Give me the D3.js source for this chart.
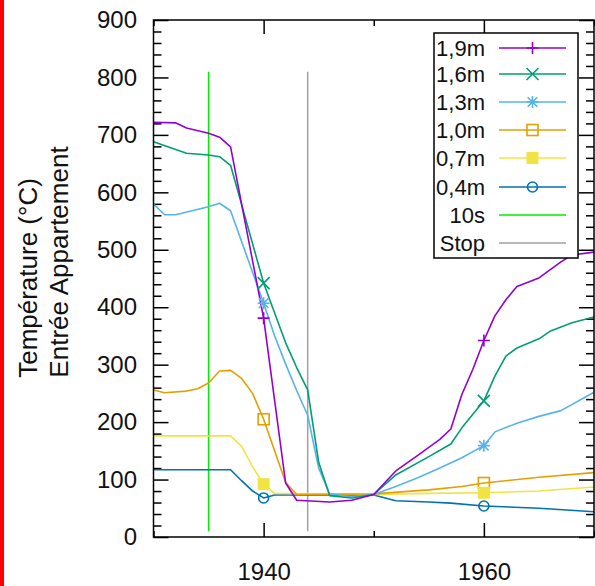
<!DOCTYPE html>
<html>
<head>
<meta charset="utf-8">
<script src="https://cdn.jsdelivr.net/npm/d3@7"></script>
<style>
  body { margin: 0; background: #fff; }
  svg { display: block; }
  text { font-family: "Liberation Sans", Arial, sans-serif; fill: #111; }
</style>
</head>
<body>
<div id="chart"></div>
<script>
var W = 595, H = 586;
var plot = {left: 153.5, right: 594, top: 20, bottom: 537};

// series: [year, temperature]
var s19 = [[1930,722],[1932,721],[1933,712],[1935,703],[1936,696],[1937,679],[1940,381],[1942,94],[1943,64],[1946,61],[1948,64],[1950,74],[1952,115],[1954,142],[1956,170],[1957,188],[1958,248],[1959,292],[1960,342],[1961,385],[1962,413],[1963,436],[1965,451],[1967,479],[1968,491],[1970,496]];
var s16 = [[1930,688],[1933,668],[1935,665],[1936,662],[1937,647],[1940,442],[1941,390],[1942,338],[1943,295],[1944,256],[1945,130],[1946,72],[1948,68],[1950,74],[1952,108],[1955,140],[1957,162],[1958,190],[1960,237],[1961,280],[1962,315],[1963,329],[1965,345],[1966,358],[1968,373],[1970,383]];
var s13 = [[1930,580],[1931,561],[1932,561],[1935,575],[1936,581],[1937,568],[1940,407],[1941,350],[1942,301],[1943,255],[1944,212],[1945,120],[1946,75],[1948,70],[1950,74],[1952,88],[1954,103],[1956,120],[1958,138],[1960,159],[1961,183],[1963,198],[1965,210],[1967,220],[1970,252]];
var s10 = [[1930,256],[1931,251],[1933,254],[1934,258],[1935,268],[1936,289],[1937,290],[1938,276],[1939,250],[1940,205],[1942,95],[1943,74],[1950,75],[1955,82],[1958,88],[1960,94],[1965,104],[1970,112]];
var s07 = [[1930,176],[1937,176],[1938,158],[1939,122],[1940,92],[1941,76],[1950,74],[1955,76],[1960,77],[1965,80],[1970,87]];
var s04 = [[1930,117],[1937,117],[1938,98],[1939,80],[1940,68],[1941,73],[1950,73],[1952,63],[1955,61],[1957,59],[1960,54],[1965,50],[1970,44]];

var seriesNames = ['1,9m', '1,6m', '1,3m', '1,0m', '0,7m', '0,4m'];
var seriesColors = ['#9400d3', '#009e73', '#56b4e9', '#e69f00', '#f0e442', '#0072b2'];
var seriesMarks = ['plus', 'cross', 'star', 'square', 'fsquare', 'circle'];
var markYears = [1940, 1960];

// vertical markers
var vlines = [
    { name: '10s', year: 1935, from: 10, to: 810, color: '#00ee00' },
    { name: 'Stop', year: 1944, from: 10, to: 810, color: '#a0a0a0' }
];

var yMajor = [0, 100, 200, 300, 400, 500, 600, 700, 800, 900];
var xLabels = [1940, 1960];
var xMinor = [1930, 1950, 1970];

var svg = d3.select("#chart").append("svg")
    .attr("width", W)
    .attr("height", H);

// red strip on the left edge
svg.append("rect").attr("x", 0).attr("y", 0).attr("width", 4).attr("height", H).style("fill", "#ff0000");

var x = d3.scaleLinear().domain([1930, 1970]).range([plot.left, plot.right]);
var y = d3.scaleLinear().domain([0, 900]).range([plot.bottom, plot.top]);

svg.append("clipPath").attr("id", "clip")
    .append("rect")
    .attr("x", plot.left).attr("y", plot.top)
    .attr("width", plot.right - plot.left).attr("height", plot.bottom - plot.top);

var yMinor = d3.range(0, 901, 20).filter(function(d) { return d % 100 !== 0; });

// left axis, ticks inside
svg.append("g")
    .attr("class", "y axis")
    .attr("transform", "translate(" + plot.left + ",0)")
    .call(d3.axisLeft(y).tickValues(yMajor).tickSize(-15).tickPadding(16.5))
    .call(function(g) { g.select(".domain").remove(); })
    .style("font-size", "24px");
svg.append("g")
    .attr("transform", "translate(" + plot.left + ",0)")
    .call(d3.axisLeft(y).tickValues(yMinor).tickSize(-8).tickFormat(""))
    .call(function(g) { g.select(".domain").remove(); });

// right mirror ticks
svg.append("g")
    .attr("transform", "translate(" + plot.right + ",0)")
    .call(d3.axisRight(y).tickValues(yMajor).tickSize(-15).tickFormat(""))
    .call(function(g) { g.select(".domain").remove(); });
svg.append("g")
    .attr("transform", "translate(" + plot.right + ",0)")
    .call(d3.axisRight(y).tickValues(yMinor).tickSize(-8).tickFormat(""))
    .call(function(g) { g.select(".domain").remove(); });

// bottom axis
svg.append("g")
    .attr("class", "x axis")
    .attr("transform", "translate(0," + plot.bottom + ")")
    .call(d3.axisBottom(x).tickValues(xLabels).tickFormat(d3.format("d")).tickSize(-14).tickPadding(26))
    .call(function(g) { g.select(".domain").remove(); })
    .style("font-size", "24px");
svg.append("g")
    .attr("transform", "translate(0," + plot.bottom + ")")
    .call(d3.axisBottom(x).tickValues(xMinor).tickSize(-6).tickFormat(""))
    .call(function(g) { g.select(".domain").remove(); });

// top mirror ticks
svg.append("g")
    .attr("transform", "translate(0," + plot.top + ")")
    .call(d3.axisTop(x).tickValues(xLabels).tickSize(-14).tickFormat(""))
    .call(function(g) { g.select(".domain").remove(); });
svg.append("g")
    .attr("transform", "translate(0," + plot.top + ")")
    .call(d3.axisTop(x).tickValues(xMinor).tickSize(-6).tickFormat(""))
    .call(function(g) { g.select(".domain").remove(); });

svg.selectAll(".tick line").style("stroke", "#000").style("stroke-width", 1.5);
svg.selectAll(".tick text").style("fill", "#111");

// axis title (two lines, rotated)
svg.append("text")
    .attr("transform", "translate(37,278) rotate(-90)")
    .style("text-anchor", "middle")
    .style("font-size", "26px")
    .text("Température (°C)");
svg.append("text")
    .attr("transform", "translate(68,262) rotate(-90)")
    .style("text-anchor", "middle")
    .style("font-size", "26px")
    .text("Entrée Appartement");

var plotArea = svg.append("g").attr("clip-path", "url(#clip)");

// vertical reference lines
plotArea.selectAll("line.vref")
    .data(vlines)
    .enter().append("line")
    .attr("class", "vref")
    .attr("x1", function(d) { return x(d.year); })
    .attr("x2", function(d) { return x(d.year); })
    .attr("y1", function(d) { return y(d.from); })
    .attr("y2", function(d) { return y(d.to); })
    .style("stroke", function(d) { return d.color; })
    .style("stroke-width", 1.5);

var allSeries = [s19, s16, s13, s10, s07, s04];

var line = d3.line()
    .x(function(d) { return x(d[0]); })
    .y(function(d) { return y(d[1]); });

// draw 0,4m first so the hot series sit on top
for (var i = allSeries.length - 1; i >= 0; i--) {
    plotArea.append("path")
        .datum(allSeries[i])
        .attr("d", line)
        .style("fill", "none")
        .style("stroke", seriesColors[i])
        .style("stroke-width", 1.6)
        .style("stroke-linejoin", "round");
}

function drawMark(g, type, cx, cy, color) {
    var s = 6;
    if (type === 'plus') {
        g.append("path").attr("d", "M" + (cx - s) + "," + cy + "H" + (cx + s) + "M" + cx + "," + (cy - s) + "V" + (cy + s))
            .style("stroke", color).style("stroke-width", 1.6).style("fill", "none");
    } else if (type === 'cross') {
        g.append("path").attr("d", "M" + (cx - s) + "," + (cy - s) + "L" + (cx + s) + "," + (cy + s) + "M" + (cx - s) + "," + (cy + s) + "L" + (cx + s) + "," + (cy - s))
            .style("stroke", color).style("stroke-width", 1.6).style("fill", "none");
    } else if (type === 'star') {
        g.append("path").attr("d", "M" + (cx - s) + "," + cy + "H" + (cx + s) + "M" + cx + "," + (cy - s) + "V" + (cy + s) +
            "M" + (cx - s * 0.8) + "," + (cy - s * 0.8) + "L" + (cx + s * 0.8) + "," + (cy + s * 0.8) +
            "M" + (cx - s * 0.8) + "," + (cy + s * 0.8) + "L" + (cx + s * 0.8) + "," + (cy - s * 0.8))
            .style("stroke", color).style("stroke-width", 1.6).style("fill", "none");
    } else if (type === 'square') {
        g.append("rect").attr("x", cx - 5.5).attr("y", cy - 5.5).attr("width", 11).attr("height", 11)
            .style("stroke", color).style("stroke-width", 1.6).style("fill", "none");
    } else if (type === 'fsquare') {
        g.append("rect").attr("x", cx - 6).attr("y", cy - 6).attr("width", 12).attr("height", 12)
            .style("fill", color);
    } else if (type === 'circle') {
        g.append("circle").attr("cx", cx).attr("cy", cy).attr("r", 5)
            .style("stroke", color).style("stroke-width", 1.6).style("fill", "none");
    }
}

// point markers at 1940 and 1960
allSeries.forEach(function(ser, i) {
    ser.filter(function(d) { return markYears.indexOf(d[0]) >= 0; }).forEach(function(d) {
        drawMark(plotArea, seriesMarks[i], x(d[0]), y(d[1]), seriesColors[i]);
    });
});

// frame
svg.append("rect")
    .attr("x", plot.left).attr("y", plot.top)
    .attr("width", plot.right - plot.left).attr("height", plot.bottom - plot.top)
    .style("fill", "none").style("stroke", "#000").style("stroke-width", 1.5);

// legend
var legend = svg.append("g");
legend.append("rect")
    .attr("x", 434).attr("y", 33).attr("width", 144).attr("height", 225)
    .style("fill", "#fff").style("stroke", "#000").style("stroke-width", 1.5);

var legendItems = seriesNames.map(function(n, i) {
    return { name: n, color: seriesColors[i], mark: seriesMarks[i] };
}).concat(vlines.map(function(v) { return { name: v.name, color: v.color, mark: null }; }));

var legendRows = [48, 74, 102, 130, 158, 187, 215, 243];

legendItems.forEach(function(d, i) {
    var ly = legendRows[i];
    legend.append("text")
        .attr("x", 485).attr("y", ly).attr("dy", "0.36em")
        .style("text-anchor", "end")
        .style("font-size", "22px")
        .text(d.name);
    legend.append("line")
        .attr("x1", 499).attr("x2", 566).attr("y1", ly).attr("y2", ly)
        .style("stroke", d.color).style("stroke-width", 1.6);
    if (d.mark) drawMark(legend, d.mark, 532.5, ly, d.color);
});
</script>
</body>
</html>
